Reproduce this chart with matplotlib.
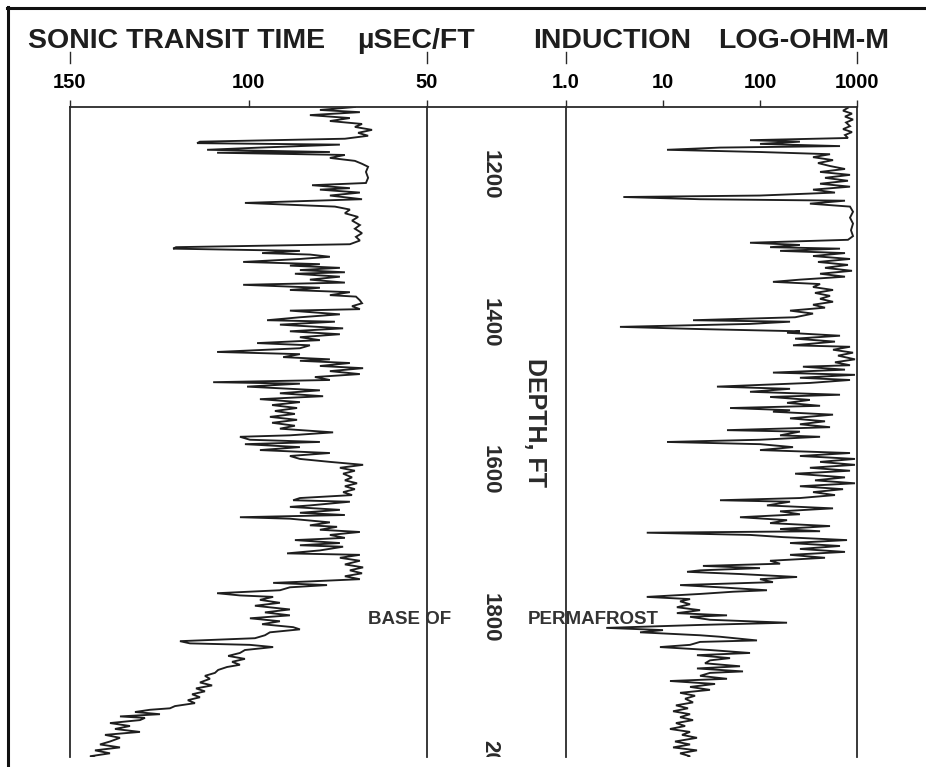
import matplotlib
matplotlib.use("Agg")
import matplotlib.pyplot as plt
from matplotlib.transforms import blended_transform_factory
from matplotlib.lines import Line2D

# ---------------- data ----------------
sonic_depth = [1108, 1112, 1115, 1119, 1123, 1127, 1131, 1135, 1139, 1143, 1147, 1151, 1155, 1157, 1159,
               1163, 1166, 1169, 1170, 1173, 1177, 1181, 1185, 1189, 1196, 1204, 1211, 1214, 1218, 1220,
               1224, 1228, 1233, 1238, 1241, 1243, 1247, 1252, 1257, 1262, 1268, 1273, 1279, 1284, 1289,
               1294, 1298, 1300, 1303, 1306, 1308, 1311, 1314, 1318, 1321, 1323, 1326, 1329, 1332, 1334,
               1338, 1342, 1346, 1349, 1353, 1356, 1359, 1363, 1365, 1370, 1374, 1378, 1382, 1384, 1389,
               1393, 1397, 1399, 1403, 1408, 1412, 1416, 1420, 1424, 1428, 1431, 1435, 1440, 1443, 1447,
               1450, 1452, 1455, 1459, 1462, 1466, 1470, 1474, 1478, 1481, 1483, 1487, 1492, 1496, 1500,
               1504, 1508, 1512, 1516, 1520, 1524, 1528, 1532, 1536, 1540, 1544, 1549, 1553, 1555, 1559,
               1562, 1565, 1569, 1573, 1577, 1581, 1585, 1589, 1593, 1597, 1601, 1605, 1610, 1614, 1618,
               1622, 1626, 1630, 1634, 1638, 1641, 1643, 1648, 1650, 1654, 1658, 1661, 1664, 1666, 1671,
               1675, 1677, 1681, 1684, 1688, 1692, 1695, 1699, 1702, 1704, 1709, 1713, 1715, 1719, 1723,
               1728, 1732, 1736, 1740, 1744, 1748, 1751, 1753, 1756, 1759, 1763, 1767, 1770, 1772, 1776,
               1780, 1784, 1789, 1793, 1797, 1801, 1805, 1809, 1813, 1816, 1820, 1824, 1828, 1832, 1835,
               1837, 1840, 1844, 1848, 1852, 1856, 1860, 1864, 1867, 1871, 1875, 1879, 1883, 1888, 1892,
               1896, 1900, 1904, 1908, 1912, 1916, 1920, 1923, 1925, 1928, 1931, 1934, 1936, 1939, 1943,
               1947, 1951, 1955, 1959, 1963, 1968, 1972, 1976, 1980, 1984, 1988, 1992]
sonic_us_ft = [70.2, 80.0, 68.8, 82.8, 71.6, 77.2, 68.2, 70.2, 65.4, 69.3, 66.5, 73.0, 113.6, 114.4, 74.4,
               96.8, 111.6, 77.2, 108.8, 73.0, 77.2, 70.2, 68.2, 66.5, 67.1, 66.5, 67.1, 82.2, 71.6, 80.0,
               68.8, 77.2, 68.2, 101.0, 85.6, 75.8, 71.6, 73.0, 69.3, 71.0, 68.8, 70.2, 68.2, 69.9, 68.8,
               71.6, 120.3, 121.1, 85.6, 96.2, 82.8, 77.2, 85.6, 101.5, 80.0, 88.4, 74.4, 85.6, 73.0, 87.0,
               74.4, 82.8, 73.0, 101.5, 80.0, 88.4, 71.6, 77.2, 69.9, 68.8, 68.2, 71.0, 68.8, 88.4, 74.4,
               85.6, 94.8, 75.8, 91.2, 73.5, 88.4, 74.4, 85.6, 80.0, 97.6, 82.8, 85.6, 108.8, 85.6, 90.3,
               77.2, 85.6, 71.6, 80.0, 67.9, 77.2, 68.8, 81.4, 77.2, 109.9, 85.6, 100.4, 80.0, 91.2, 79.1,
               96.8, 85.6, 93.4, 86.4, 92.6, 87.0, 94.0, 86.4, 93.4, 87.0, 91.2, 76.3, 88.4, 102.4, 99.6,
               80.0, 101.0, 85.6, 96.8, 77.2, 88.4, 85.6, 77.2, 67.9, 74.4, 70.2, 73.5, 71.0, 73.0, 69.6,
               73.0, 70.2, 73.5, 71.0, 85.6, 87.5, 71.6, 82.8, 88.4, 74.4, 85.6, 73.0, 102.4, 88.4, 77.2,
               82.8, 75.2, 80.0, 68.8, 77.2, 73.0, 87.0, 74.4, 85.6, 73.5, 80.0, 89.2, 68.8, 74.4, 68.8,
               73.0, 67.9, 71.6, 68.2, 73.0, 68.8, 82.8, 93.1, 78.0, 88.4, 91.2, 108.8, 102.4, 93.1, 96.8,
               91.2, 98.2, 88.4, 95.4, 88.4, 99.6, 91.2, 96.2, 87.5, 85.6, 94.0, 95.4, 98.2, 119.2, 116.4,
               99.6, 93.1, 101.0, 102.4, 105.7, 101.0, 104.6, 102.4, 106.0, 108.5, 109.4, 112.2, 110.8, 113.6, 110.2,
               114.7, 112.2, 115.8, 113.6, 117.0, 115.0, 120.6, 122.0, 127.6, 131.8, 124.8, 136.0, 129.0, 130.4, 138.8,
               133.2, 137.4, 130.4, 140.2, 136.0, 138.8, 141.6, 136.0, 143.0, 138.8, 144.4, 141.6]

ind_depth = [1109, 1113, 1117, 1121, 1125, 1129, 1134, 1138, 1142, 1146, 1150, 1153, 1155, 1158, 1161,
             1163, 1166, 1169, 1172, 1176, 1180, 1184, 1188, 1192, 1196, 1200, 1204, 1208, 1212, 1216,
             1220, 1224, 1228, 1230, 1233, 1235, 1239, 1243, 1250, 1258, 1266, 1275, 1283, 1288, 1292,
             1295, 1298, 1300, 1303, 1306, 1310, 1314, 1318, 1322, 1326, 1330, 1334, 1338, 1342, 1345,
             1348, 1352, 1356, 1360, 1364, 1368, 1372, 1376, 1380, 1384, 1388, 1393, 1397, 1399, 1402,
             1406, 1409, 1412, 1414, 1418, 1422, 1426, 1431, 1433, 1437, 1441, 1445, 1450, 1454, 1458,
             1460, 1464, 1468, 1471, 1475, 1478, 1482, 1487, 1490, 1494, 1498, 1501, 1505, 1509, 1513,
             1516, 1519, 1521, 1525, 1530, 1534, 1538, 1542, 1546, 1548, 1553, 1555, 1559, 1562, 1565,
             1569, 1573, 1577, 1581, 1585, 1589, 1593, 1597, 1601, 1605, 1610, 1614, 1618, 1622, 1626,
             1630, 1634, 1638, 1641, 1643, 1648, 1652, 1656, 1660, 1664, 1668, 1672, 1676, 1680, 1683,
             1685, 1688, 1691, 1695, 1699, 1703, 1707, 1711, 1715, 1719, 1723, 1727, 1730, 1733, 1736,
             1738, 1741, 1745, 1748, 1752, 1756, 1759, 1763, 1765, 1768, 1772, 1775, 1778, 1782, 1786,
             1790, 1794, 1797, 1799, 1803, 1807, 1810, 1814, 1817, 1820, 1824, 1826, 1831, 1833, 1837,
             1840, 1844, 1848, 1851, 1855, 1858, 1862, 1866, 1869, 1873, 1875, 1879, 1883, 1886, 1890,
             1894, 1898, 1902, 1906, 1910, 1915, 1919, 1923, 1927, 1931, 1935, 1939, 1943, 1947, 1951,
             1955, 1959, 1963, 1968, 1972, 1976, 1980, 1984, 1988, 1992]
ind_ohm_m = [807, 718, 888, 752, 910, 771, 847, 718, 888, 752, 807, 78.9, 258, 100, 668,
             38.7, 11, 100, 527, 352, 566, 396, 527, 752, 416, 847, 468, 807, 416, 847,
             352, 593, 100, 3.9, 24.1, 752, 327, 847, 910, 847, 910, 867, 910, 807, 78.9,
             258, 127, 668, 161, 752, 352, 847, 396, 807, 468, 888, 416, 752, 258, 136,
             416, 352, 566, 369, 527, 416, 566, 352, 468, 204, 352, 230, 20.4, 204, 78.9,
             3.6, 24.1, 258, 190, 668, 230, 593, 219, 847, 566, 910, 637, 953, 593, 847,
             277, 752, 136, 953, 258, 847, 327, 36.0, 204, 78.9, 668, 127, 327, 190, 416,
             49.1, 204, 136, 566, 204, 468, 258, 527, 45.7, 258, 161, 416, 100, 11, 100,
             219, 100, 847, 258, 953, 416, 953, 327, 847, 230, 752, 369, 953, 258, 718,
             352, 593, 258, 38.7, 204, 118, 566, 161, 258, 62.2, 190, 127, 527, 161, 416,
             6.8, 78.9, 173, 789, 204, 668, 258, 752, 204, 468, 127, 161, 25.8, 100, 24.1,
             17.7, 62.2, 241, 100, 136, 15.0, 38.7, 118, 52.7, 24.1, 6.8, 19.0, 15.0, 19.0, 13.9,
             24.1, 13.9, 45.7, 19.0, 30.5, 190, 24.1, 2.6, 10, 5.8, 24.1, 38.7, 93.1, 24.1, 19.0,
             9.3, 30.5, 78.9, 22.4, 49.1, 30.5, 27.1, 62.2, 22.4, 66.8, 30.5, 24.1, 45.7, 11.8, 34.4,
             19.0, 30.5, 15.0, 21.4, 16.9, 20.4, 13.6, 18.1, 12.7, 19.0, 15.0, 20.4, 13.6, 16.9, 11.8,
             19.0, 15.7, 22.4, 13.3, 19.0, 12.7, 22.4, 15.0, 19.0, 16.9]

sonic_ticks = [150, 100, 50]
sonic_ticklabels = ["150", "100", "50"]
ind_ticks = [1, 10, 100, 1000]
ind_ticklabels = ["1.0", "10", "100", "1000"]
depth_labels = [1200, 1400, 1600, 1800, 2000]

DEPTH_TOP, DEPTH_BOTTOM = 1108, 1989

# ---------------- figure ----------------
W, H = 926, 767
fig = plt.figure(figsize=(W / 100, H / 100), dpi=100)
fig.patch.set_facecolor("white")
plt.rcParams["font.family"] = ["Liberation Sans", "DejaVu Sans"]

INK = "#1e1e1e"
GRID = "#2a2a2a"


def fx(px):
    return px / W


def fy(py):
    return 1 - py / H


ax_top, ax_bot = 107, 757
bottom = fy(ax_bot)
height = (ax_bot - ax_top) / H

ax_s = fig.add_axes([fx(70), bottom, fx(427) - fx(70), height])
ax_m = fig.add_axes([fx(427), bottom, fx(566) - fx(427), height])
ax_i = fig.add_axes([fx(566), bottom, fx(857) - fx(566), height])

for ax in (ax_s, ax_m, ax_i):
    ax.set_ylim(DEPTH_BOTTOM, DEPTH_TOP)
    ax.set_facecolor("none")
    ax.spines["bottom"].set_visible(False)
    for s in ("top", "left", "right"):
        ax.spines[s].set_color(GRID)
        ax.spines[s].set_linewidth(1.3)
    ax.tick_params(axis="y", left=False, right=False, labelleft=False, labelright=False)

# middle track: no side spines (they are drawn by neighbours)
ax_m.spines["left"].set_visible(False)
ax_m.spines["right"].set_visible(False)
ax_m.set_xticks([])
ax_m.set_yticks([])

# sonic track
ax_s.set_xlim(150, 50)
ax_s.plot(sonic_us_ft, sonic_depth, color=INK, lw=1.35, solid_joinstyle="miter")
ax_s.xaxis.tick_top()
ax_s.set_xticks(sonic_ticks)
ax_s.set_xticklabels(sonic_ticklabels)
ax_s.tick_params(axis="x", top=True, bottom=False, direction="out", length=5, width=1.0,
                 color=GRID, pad=6, labelsize=14.5)
for lab in ax_s.get_xticklabels():
    lab.set_fontweight("bold")
ax_s.set_yticks([])

# induction track
ax_i.set_xscale("log")
ax_i.set_xlim(1, 1000)
ax_i.plot(ind_ohm_m, ind_depth, color=INK, lw=1.35, solid_joinstyle="miter")
ax_i.xaxis.tick_top()
ax_i.set_xticks(ind_ticks)
ax_i.set_xticklabels(ind_ticklabels)
ax_i.minorticks_off()
ax_i.tick_params(axis="x", top=True, bottom=False, direction="out", length=5, width=1.0,
                 color=GRID, pad=6, labelsize=14.5)
for lab in ax_i.get_xticklabels():
    lab.set_fontweight("bold")
ax_i.set_yticks([])

# small header tick marks above the scale numbers
for ax, xv in ((ax_s, 150), (ax_s, 50), (ax_i, 1), (ax_i, 1000)):
    tr = blended_transform_factory(ax.transData, ax.transAxes)
    ax.plot([xv, xv], [1.068, 1.085], transform=tr, color=GRID, lw=1.0, clip_on=False)

# depth labels
trm = blended_transform_factory(ax_m.transAxes, ax_m.transData)
for d in depth_labels:
    ax_m.text(0.455, d, str(d), rotation=-90, ha="center", va="center", fontsize=16,
              fontweight="bold", color="#2a2a2a", transform=trm, clip_on=True)
ax_m.text(0.78, 1536, "DEPTH, FT", rotation=-90, ha="center", va="center", fontsize=18,
          fontweight="bold", color="#2a2a2a", transform=trm)

# base of permafrost annotation
ax_s.text(55.0, 1803, "BASE OF", ha="center", va="center", fontsize=13.5, fontweight="bold",
          color="#333333", clip_on=False)
ax_i.text(1.9, 1803, "PERMAFROST", ha="center", va="center", fontsize=13.5, fontweight="bold",
          color="#333333", clip_on=False)

# header titles
for xp, s in ((28, "SONIC TRANSIT TIME"), (357, "\u00b5SEC/FT"), (533, "INDUCTION"),
              (718, "LOG-OHM-M")):
    fig.text(fx(xp), fy(48), s, fontsize=20.5, fontweight="bold", color=INK,
             ha="left", va="baseline")

# outer frame (top and left edges)
fig.add_artist(Line2D([fx(7), 1.0], [fy(8), fy(8)], color="#111111", lw=2.2, transform=fig.transFigure))
fig.add_artist(Line2D([fx(8), fx(8)], [fy(7), 0.0], color="#111111", lw=2.2, transform=fig.transFigure))

fig.savefig("out.png", dpi=100, facecolor="white")
